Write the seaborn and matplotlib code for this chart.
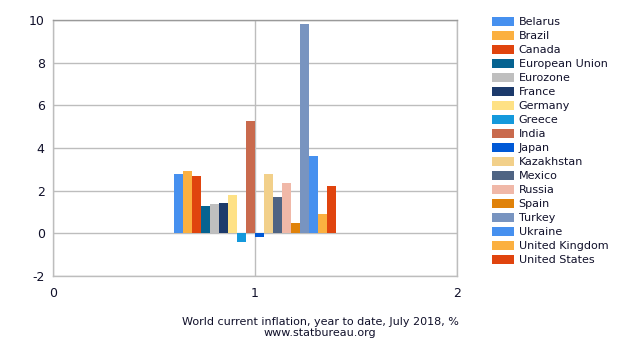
import numpy as np
import pandas as pd
import matplotlib
matplotlib.use("Agg")
import matplotlib.pyplot as plt
import matplotlib.patches as mpatches
import seaborn as sns

# ── data ─────────────────────────────────────────────────────────────────────
countries = [
    "Belarus", "Brazil", "Canada", "European Union", "Eurozone", "France",
    "Germany", "Greece", "India", "Japan", "Kazakhstan", "Mexico", "Russia",
    "Spain", "Turkey", "Ukraine", "United Kingdom", "United States",
]
inflation = [
    2.76, 2.94, 2.71, 1.26, 1.36, 1.40,
    1.78, -0.42, 5.28, -0.19, 2.76, 1.68, 2.38,
    0.47, 9.81, 3.64, 0.89, 2.24,
]
colors = [
    "#4690ef", "#fbb040", "#e0440e", "#066391", "#bfbfbf", "#1c3a6b",
    "#fee185", "#1499dc", "#c96a4d", "#0059d6", "#f2d08a", "#4f6483",
    "#f0b8a8", "#e0820a", "#7894c0", "#4690ef", "#fbb040", "#e0440e",
]
group = [1] * len(countries)

y_ticks = [-2, 0, 2, 4, 6, 8, 10]
x_ticks = [0, 1, 2]

df = pd.DataFrame({"group": group, "country": countries, "value": inflation})

# ── figure ───────────────────────────────────────────────────────────────────
sns.set_style("white")
plt.rcParams["font.family"] = ["DejaVu Sans"]
text_color = "#10102a"

fig = plt.figure(figsize=(6.4, 3.5), dpi=100)
ax = fig.add_axes([53 / 640, 1 - 276 / 350, (457 - 53) / 640, (276 - 20) / 350])

sns.barplot(
    data=df, x="group", y="value", hue="country", hue_order=countries,
    palette=colors, dodge=True, native_scale=True, width=0.8,
    saturation=1, legend=False, ax=ax, linewidth=0,
)

ax.set_xlim(0, 2)
ax.set_ylim(-2, 10)
ax.set_xticks(x_ticks)
ax.set_yticks(y_ticks)
ax.set_xticklabels([str(t) for t in x_ticks])
ax.set_yticklabels([str(t) for t in y_ticks])
ax.set_xlabel("")
ax.set_ylabel("")
ax.grid(True, color="#bdbdbd", lw=1)
ax.set_axisbelow(True)

for side in ["left", "bottom", "right"]:
    ax.spines[side].set_color("#bdbdbd")
    ax.spines[side].set_linewidth(1)
ax.spines["top"].set_color("#9a9a9a")
ax.spines["top"].set_linewidth(1)

ax.tick_params(axis="both", labelcolor=text_color, labelsize=9, length=4, width=1,
               direction="out", color="black", pad=2)
ax.tick_params(axis="x", pad=4)

# legend
handles = [mpatches.Patch(facecolor=c, edgecolor="none", label=n)
           for n, c in zip(countries, colors)]
leg = fig.legend(
    handles=handles, loc="upper left", bbox_to_anchor=(492 / 640, 1 - 17 / 350),
    frameon=False, fontsize=8, handlelength=2.0, handleheight=0.9,
    labelspacing=0.32, handletextpad=0.4, borderaxespad=0, borderpad=0,
)
for t in leg.get_texts():
    t.set_color(text_color)

# caption
fig.text(320 / 640, 1 - 322 / 350, "World current inflation, year to date, July 2018, %",
         ha="center", va="center", fontsize=8, color=text_color)
fig.text(320 / 640, 1 - 333 / 350, "www.statbureau.org",
         ha="center", va="center", fontsize=8, color=text_color)

fig.savefig("out.png", dpi=100)
